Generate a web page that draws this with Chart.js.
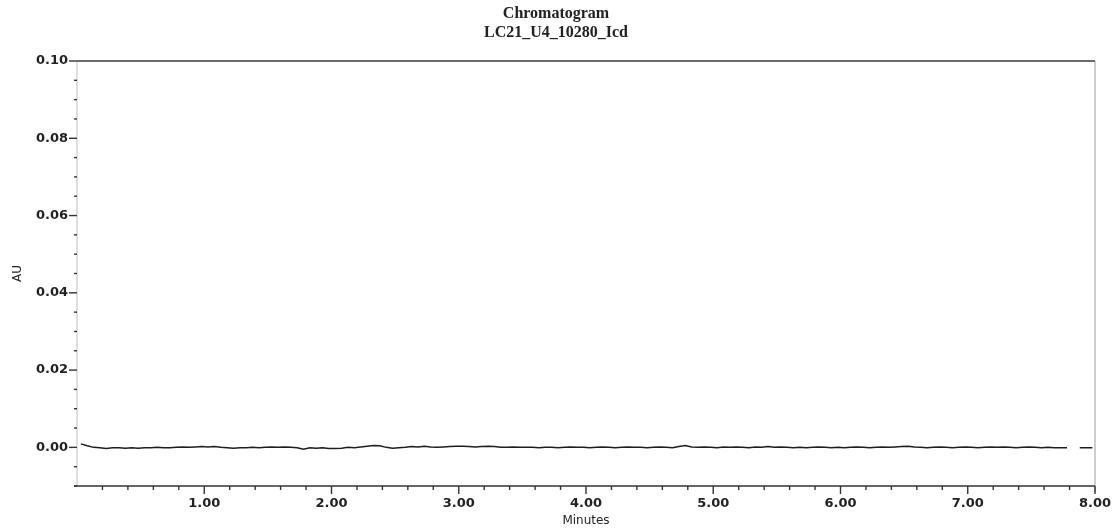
<!DOCTYPE html>
<html>
<head>
<meta charset="utf-8">
<script src="https://cdn.jsdelivr.net/npm/chart.js@4.4.0/dist/chart.umd.min.js"></script>
<style>
html, body { margin: 0; padding: 0; background: #fff; }
</style>
</head>
<body>
<canvas id="chromato" width="1114" height="529"></canvas>
<script>
// Chromatogramme LC21_U4_10280_Icd

var titre = ["Chromatogram", "LC21_U4_10280_Icd"];
var debut = 0.03;   // minutes, premier point
var pas = 0.05;     // minutes entre deux points
// signal en 1e-4 AU (null = trou dans la trace)
var signal = [
    9, 4, 0, -1, -3, -1, -1, -2, -1, -2,
    -1, -1, 0, -1, -1, 0, 1, 0, 1, 2,
    1, 2, 0, -1, -2, -1, -1, 0, -1, 0,
    1, 0, 1, 0, -1, -5, -1, -2, -1, -3,
    -3, -2, 0, -1, 1, 3, 5, 4, 0, -2,
    -1, 0, 2, 1, 3, 1, 0, 1, 2, 3,
    3, 2, 1, 2, 3, 2, 0, 0, 1, 0,
    0, 0, -1, 0, 0, -1, 0, 1, 0, 0,
    -1, 0, 1, 0, -1, 0, 1, 0, 0, -1,
    0, 1, 0, -1, 2, 5, 1, 0, 1, 0,
    -1, 1, 0, 1, 0, -1, 1, 0, 2, 0,
    1, 0, -1, 0, -1, 0, 1, 0, -1, 0,
    -1, 0, 1, 0, -1, 0, 1, 0, 1, 2,
    3, 1, 0, -1, 0, 1, 0, -1, 0, 1,
    0, -1, 0, 1, 0, 1, 0, -1, 0, 1,
    0, -1, 0, -1, -1, -1, null, -1, -1, -1
];
var minX = 0, maxX = 8, pasX = 0.2;
var minY = -0.01, maxY = 0.10, pasY = 0.005;
var etiquettesX = ["1.00", "2.00", "3.00", "4.00", "5.00", "6.00", "7.00", "8.00"];
var etiquettesY = ["0.00", "0.02", "0.04", "0.06", "0.08", "0.10"];

var points = signal.map(function (s, i) {
    return { x: +(debut + i * pas).toFixed(2), y: s === null ? null : s / 10000 };
});

function trait(ctx, x1, y1, x2, y2) {
    ctx.beginPath();
    ctx.moveTo(x1, y1);
    ctx.lineTo(x2, y2);
    ctx.stroke();
}

// titre sur deux lignes, un peu decale vers la droite comme l'original
var titreChromato = {
    id: "titreChromato",
    afterDraw: function (chart) {
        var ctx = chart.ctx;
        ctx.save();
        ctx.fillStyle = "#222";
        ctx.font = "bold 16px 'Liberation Serif'";
        ctx.textAlign = "center";
        ctx.textBaseline = "middle";
        ctx.fillText(titre[0], 556, 14);
        ctx.fillText(titre[1], 556, 33);
        ctx.restore();
    }
};

// cadre + graduations majeures / mineures
var traitsAxes = {
    id: "traitsAxes",
    afterDraw: function (chart) {
        var ctx = chart.ctx;
        var a = chart.chartArea;
        var sx = chart.scales.x, sy = chart.scales.y;
        ctx.save();
        ctx.lineCap = "butt";

        ctx.strokeStyle = "#c9c9c9";
        ctx.lineWidth = 1.2;
        trait(ctx, a.left, a.top, a.left, a.bottom);
        ctx.strokeStyle = "#bdbdbd";
        ctx.lineWidth = 1.5;
        trait(ctx, a.right, a.top, a.right, a.bottom + 6);
        ctx.strokeStyle = "#6a6a6a";
        ctx.lineWidth = 2;
        trait(ctx, a.left, a.top, a.right, a.top);
        ctx.strokeStyle = "#333";
        ctx.lineWidth = 1.6;
        trait(ctx, a.left - 3, a.bottom, a.right, a.bottom);

        ctx.strokeStyle = "#333";
        ctx.lineWidth = 1.4;
        sx.ticks.forEach(function (t) {
            var v = Math.round(t.value * 10);
            if (v <= 0) return;
            var px = sx.getPixelForValue(t.value);
            var long = v % 10 === 0 ? 8 : 4;
            trait(ctx, px, a.bottom, px, a.bottom + long);
        });
        sy.ticks.forEach(function (t) {
            var v = Math.round(t.value * 1000);
            var py = sy.getPixelForValue(t.value);
            var long = v % 20 === 0 ? 8 : 3;
            trait(ctx, a.left, py, a.left - long, py);
        });
        ctx.restore();
    }
};

var policeTicks = { family: "DejaVu Sans", size: 13, weight: "bold" };

new Chart(document.getElementById("chromato"), {
    type: "line",
    data: {
        datasets: [{
            label: titre[1],
            data: points,
            borderColor: "#1e1e1e",
            borderWidth: 1.5,
            pointRadius: 0,
            tension: 0,
            spanGaps: false,
            fill: false
        }]
    },
    options: {
        responsive: false,
        animation: false,
        devicePixelRatio: 1,
        layout: { padding: { left: 0, right: 19, top: 61, bottom: 0 } },
        plugins: {
            legend: { display: false },
            tooltip: { enabled: false },
            title: { display: false }
        },
        scales: {
            x: {
                type: "linear",
                min: minX,
                max: maxX,
                border: { display: false },
                grid: { display: false, drawTicks: false },
                ticks: {
                    stepSize: pasX,
                    autoSkip: false,
                    maxRotation: 0,
                    padding: 10,
                    color: "#222",
                    font: policeTicks,
                    callback: function (v) {
                        var n = Math.round(v * 10);
                        if (n % 10 !== 0 || n < 10) return "";
                        return etiquettesX[n / 10 - 1];
                    }
                },
                title: {
                    display: true,
                    text: "Minutes",
                    color: "#222",
                    font: { family: "DejaVu Sans", size: 12 },
                    padding: { top: 0, bottom: 1 }
                },
                afterFit: function (s) {
                    s.height = 43;
                    s.paddingLeft = 0;
                    s.paddingRight = 0;
                }
            },
            y: {
                min: minY,
                max: maxY,
                border: { display: false },
                grid: { display: false, drawTicks: false },
                ticks: {
                    stepSize: pasY,
                    autoSkip: false,
                    padding: 9,
                    color: "#222",
                    font: policeTicks,
                    callback: function (v) {
                        var n = Math.round(v * 1000);
                        if (n % 20 !== 0 || n < 0) return "";
                        return etiquettesY[n / 20];
                    }
                },
                title: {
                    display: true,
                    text: "AU",
                    color: "#222",
                    font: { family: "DejaVu Sans", size: 12 },
                    padding: { top: 11, bottom: 0 }
                },
                afterFit: function (s) {
                    s.width = 77;
                    s.paddingTop = 0;
                    s.paddingBottom = 0;
                }
            }
        }
    },
    plugins: [traitsAxes, titreChromato]
});
</script>
</body>
</html>
